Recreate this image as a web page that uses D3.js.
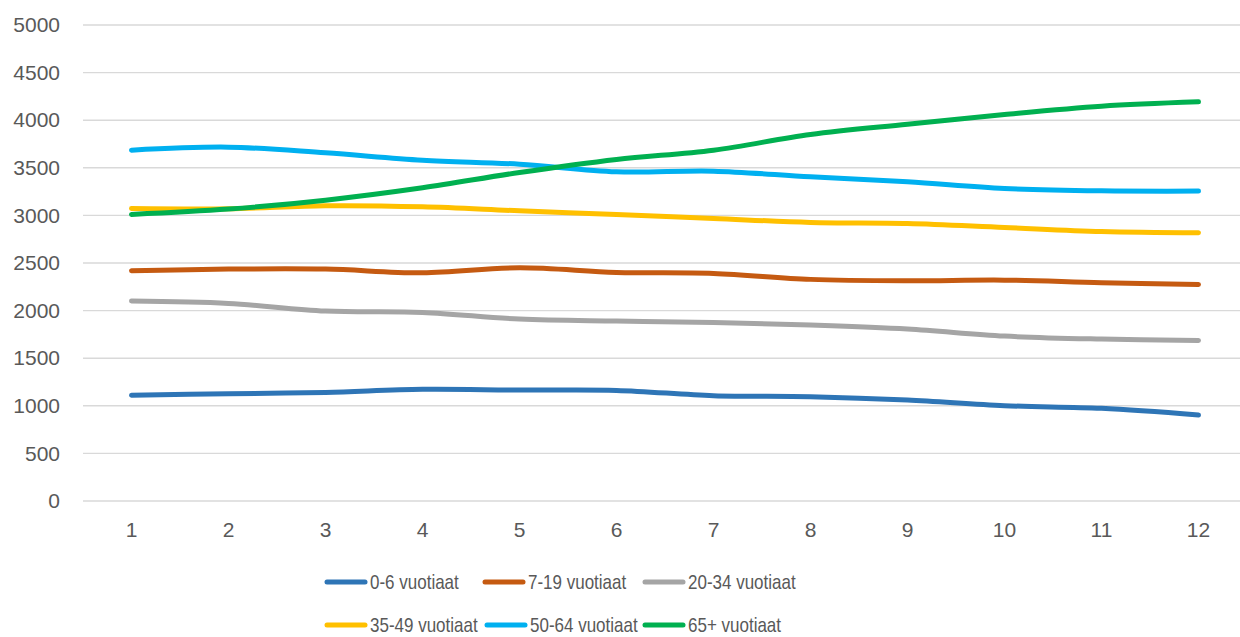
<!DOCTYPE html>
<html>
<head>
<meta charset="utf-8">
<script src="https://cdn.jsdelivr.net/npm/d3@7"></script>
<style>
  body { margin: 0; background: #fff; }
  svg text { font-family: "Liberation Sans", Arial, sans-serif; fill: #595959; }
</style>
</head>
<body>
<div id="chart"></div>
<script>
// x categories (months 1..12)
const months = [1, 2, 3, 4, 5, 6, 7, 8, 9, 10, 11, 12];

// series names + colours
const seriesNames = ['0-6 vuotiaat', '7-19 vuotiaat', '20-34 vuotiaat', '35-49 vuotiaat', '50-64 vuotiaat', '65+ vuotiaat'];
const seriesColors = ['#2E75B6', '#C55A11', '#A5A5A5', '#FFC000', '#00B0F0', '#00B050'];

// values
const age0to6   = [1110, 1127, 1141, 1173, 1165, 1162, 1106, 1095, 1060, 1001, 973, 903];
const age7to19  = [2418, 2436, 2436, 2397, 2450, 2401, 2390, 2328, 2313, 2320, 2292, 2275];
const age20to34 = [2100, 2075, 1995, 1981, 1911, 1890, 1876, 1848, 1806, 1732, 1701, 1687];
const age35to49 = [3073, 3070, 3101, 3090, 3048, 3010, 2968, 2926, 2915, 2873, 2831, 2817];
const age50to64 = [3685, 3717, 3657, 3580, 3538, 3458, 3465, 3405, 3353, 3283, 3258, 3255];
const age65plus = [3010, 3066, 3160, 3290, 3451, 3588, 3685, 3850, 3958, 4060, 4147, 4193];

const yTicks = [0, 500, 1000, 1500, 2000, 2500, 3000, 3500, 4000, 4500, 5000];

const allSeries = [age0to6, age7to19, age20to34, age35to49, age50to64, age65plus];

const width = 1240, height = 637;
const margin = { top: 25, right: -7, bottom: 136, left: 83 };

const svg = d3.select('#chart').append('svg')
  .attr('width', width)
  .attr('height', height);

// band scale so points sit in the middle of each category
const x = d3.scaleBand()
  .domain(months)
  .range([margin.left, width - margin.right]);

const y = d3.scaleLinear()
  .domain([0, 5000])
  .range([height - margin.bottom, margin.top]);

// gridlines
svg.append('g')
  .selectAll('line')
  .data(yTicks)
  .enter()
  .append('line')
  .attr('x1', margin.left)
  .attr('x2', width - margin.right)
  .attr('y1', d => y(d))
  .attr('y2', d => y(d))
  .attr('stroke', '#D9D9D9')
  .attr('stroke-width', 1.4);

// y axis labels
const yAxis = d3.axisLeft(y).tickValues(yTicks).tickFormat(d3.format('d')).tickSize(0).tickPadding(23);
svg.append('g')
  .attr('transform', `translate(${margin.left},0)`)
  .call(yAxis)
  .call(g => g.select('.domain').remove())
  .selectAll('text')
  .style('font-size', '21px')
  .attr('fill', '#595959');

// x axis labels
const xAxis = d3.axisBottom(x).tickSize(0).tickPadding(21);
svg.append('g')
  .attr('transform', `translate(0,${height - margin.bottom})`)
  .call(xAxis)
  .call(g => g.select('.domain').remove())
  .selectAll('text')
  .style('font-size', '21px')
  .attr('fill', '#595959');

// lines
const line = d3.line()
  .x((d, i) => x(months[i]) + x.bandwidth() / 2)
  .y(d => y(d))
  .curve(d3.curveCatmullRom.alpha(0.5));

svg.append('g')
  .selectAll('path')
  .data(allSeries)
  .enter()
  .append('path')
  .attr('d', d => line(d))
  .attr('fill', 'none')
  .attr('stroke', (d, i) => seriesColors[i])
  .attr('stroke-width', 5)
  .attr('stroke-linecap', 'round')
  .attr('stroke-linejoin', 'round');

// legend, two rows of three
const legendX = [325, 483, 643];
const legendY = [582, 625];

const legend = svg.append('g')
  .selectAll('g')
  .data(seriesNames)
  .enter()
  .append('g')
  .attr('transform', (d, i) => {
    let col = i % 3, row = Math.floor(i / 3);
    let lx = legendX[col] + (row === 1 && col === 1 ? 2 : 0);
    return `translate(${lx},${legendY[row]})`;
  });

legend.append('line')
  .attr('x1', 2)
  .attr('x2', 40)
  .attr('stroke', (d, i) => seriesColors[i])
  .attr('stroke-width', 5)
  .attr('stroke-linecap', 'round');

// Calibri-ish look: bigger glyphs squeezed horizontally
legend.append('text')
  .attr('transform', 'translate(45,0) scale(0.85,1)')
  .attr('dy', '0.35em')
  .style('font-size', '20px')
  .text(d => d);
</script>
</body>
</html>
